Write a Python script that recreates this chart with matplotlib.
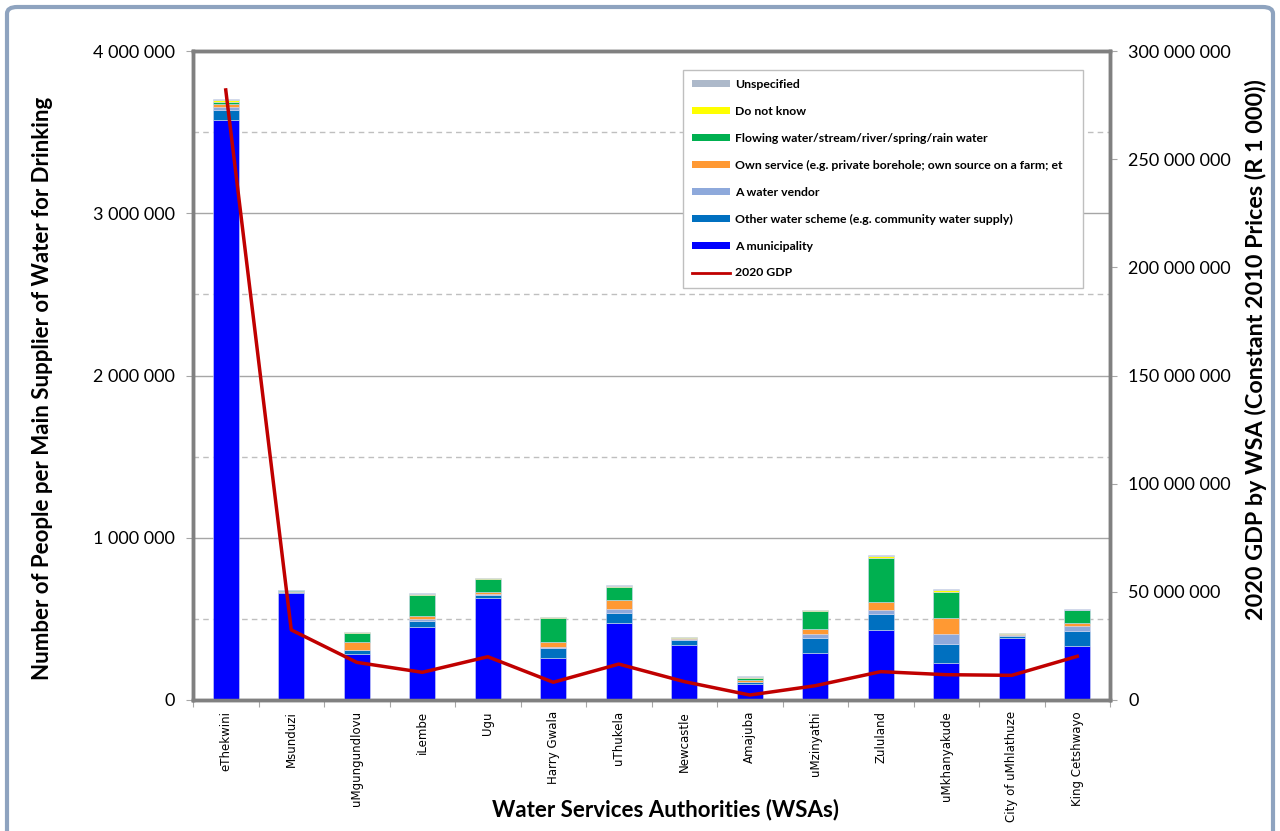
import numpy as np
import matplotlib.pyplot as plt
from matplotlib.patches import Patch, FancyBboxPatch
from matplotlib.lines import Line2D
from matplotlib.ticker import FuncFormatter, MultipleLocator

plt.rcParams['font.family'] = ['Lato', 'DejaVu Sans']

# WSAs
wsas = ['eThekwini', 'Msunduzi', 'uMgungundlovu', 'iLembe', 'Ugu', 'Harry Gwala',
        'uThukela', 'Newcastle', 'Amajuba', 'uMzinyathi', 'Zululand',
        'uMkhanyakude', 'City of uMhlathuze', 'King Cetshwayo']

# people per main supplier of drinking water
municipality = [3574000, 657000, 283000, 452000, 631000, 257000, 473000, 339000, 99000, 288000, 431000, 230000, 380000, 333000]
other_scheme = [62000, 8000, 25000, 35000, 17000, 66000, 66000, 33000, 10000, 92000, 97000, 115000, 16000, 94000]
water_vendor = [20000, 3000, 3000, 12000, 8000, 4000, 21000, 2000, 5000, 27000, 27000, 62000, 3000, 31000]
own_service = [18000, 3000, 45000, 18000, 12000, 33000, 58000, 6000, 8000, 31000, 47000, 96000, 6000, 17000]
flowing = [12000, 4000, 58000, 131000, 78000, 148000, 76000, 2000, 16000, 113000, 271000, 164000, 2000, 80000]
dont_know = [10000, 1000, 5000, 6000, 6000, 3000, 8000, 6000, 4000, 2000, 16000, 14000, 6000, 2000]
unspecified = [6000, 3000, 2000, 5000, 2000, 2000, 6000, 2000, 3000, 4000, 6000, 6000, 2000, 4000]

# 2020 GDP (constant 2010 prices, R 1 000)
gdp = [282000000, 32400000, 17400000, 12800000, 20000000, 8200000, 16600000,
       8500000, 2300000, 6600000, 13100000, 11700000, 11400000, 20200000]

series = [
    ('A municipality', municipality, '#0000FF'),
    ('Other water scheme (e.g. community water supply)', other_scheme, '#0070C0'),
    ('A water vendor', water_vendor, '#8EA9DB'),
    ('Own service (e.g. private borehole; own source on a farm; et', own_service, '#FF9933'),
    ('Flowing water/stream/river/spring/rain water', flowing, '#00B050'),
    ('Do not know', dont_know, '#FFFF00'),
    ('Unspecified', unspecified, '#ADB9CA'),
]

W, H = 1280, 831
fig = plt.figure(figsize=(W / 100, H / 100), dpi=100)
ax = fig.add_axes([193 / W, 1 - 700 / H, (1110 - 193) / W, (700 - 51) / H])

x = np.arange(len(wsas))
bottom = np.zeros(len(wsas))
for name, vals, col in series:
    ax.bar(x, vals, 0.4, bottom=bottom, color=col, edgecolor='#D0D8F0', linewidth=0.4, zorder=3)
    bottom += np.array(vals)

ax.set_xlim(-0.5, len(wsas) - 0.5)
ax.set_ylim(0, 4000000)
ax.yaxis.set_major_locator(MultipleLocator(1000000))
ax.yaxis.set_minor_locator(MultipleLocator(500000))
fmt = FuncFormatter(lambda v, p: f'{int(v):,}'.replace(',', ' '))
ax.yaxis.set_major_formatter(fmt)
ax.grid(axis='y', which='major', color='#A6A6A6', linewidth=1, zorder=0)
ax.grid(axis='y', which='minor', color='#BFBFBF', linewidth=1, linestyle=(0, (4, 3)), zorder=0)

# category boundaries as ticks, labels at centres
ax.set_xticks(np.arange(len(wsas) + 1) - 0.5)
ax.set_xticklabels([])
ax.set_xticks(x, minor=True)
ax.set_xticklabels(wsas, minor=True, rotation=90, fontsize=8.5, va='top',
                   family='DejaVu Sans')
ax.tick_params(axis='x', which='major', length=5, color='#A6A6A6')
ax.tick_params(axis='x', which='minor', length=0, pad=8)
ax.tick_params(axis='y', which='major', length=5, color='#A6A6A6', labelsize=13, pad=8)
ax.tick_params(axis='y', which='minor', length=0)

for s in ['left', 'bottom', 'right', 'top']:
    ax.spines[s].set_color('#808080')
    ax.spines[s].set_linewidth(2.5)

ax2 = ax.twinx()
ax2.plot(x, gdp, color='#C00000', linewidth=2.5, zorder=4)
ax2.set_ylim(0, 300000000)
ax2.yaxis.set_major_locator(MultipleLocator(50000000))
ax2.yaxis.set_major_formatter(fmt)
ax2.tick_params(axis='y', length=5, color='#A6A6A6', labelsize=13, pad=8)
for s in ['left', 'bottom', 'right', 'top']:
    ax2.spines[s].set_color('#808080')
    ax2.spines[s].set_linewidth(2.5)

# axis titles
fig.text(43 / W, 1 - 388 / H, 'Number of People per Main Supplier of Water for Drinking',
         rotation=90, ha='center', va='center', fontsize=16, fontweight='bold')
fig.text(1256 / W, 1 - 350 / H, '2020 GDP by WSA (Constant 2010 Prices (R 1 000))',
         rotation=90, ha='center', va='center', fontsize=16.8, fontweight='bold')
fig.text(665 / W, 1 - 810 / H, 'Water Services Authorities (WSAs)',
         ha='center', va='center', fontsize=16, fontweight='bold')

handles = [Patch(facecolor=c, edgecolor='none', label=n) for n, v, c in series[::-1]]
handles.append(Line2D([], [], color='#C00000', linewidth=2, label='2020 GDP'))
leg = ax2.legend(handles=handles, loc='upper left',
                 bbox_to_anchor=((683 - 193) / 917, (700 - 288) / 649, (1083 - 683) / 917, (288 - 70) / 649),
                 mode='expand', borderaxespad=0, prop={'weight': 'bold', 'size': 8.8},
                 handlelength=3.1, handleheight=0.5, labelspacing=1.3, handletextpad=0.4,
                 borderpad=0.75, fancybox=False, framealpha=1, edgecolor='#BFBFBF')
leg.get_frame().set_linewidth(1)

frame = FancyBboxPatch((7 / W, -0.05), (1273 - 7) / W, 1 + 0.05 - 7 / H,
                       boxstyle='round,pad=0,rounding_size=0.008', transform=fig.transFigure,
                       facecolor='none', edgecolor='#8EA3BF', linewidth=3)
fig.patches.append(frame)

fig.savefig('out.png', dpi=100)
